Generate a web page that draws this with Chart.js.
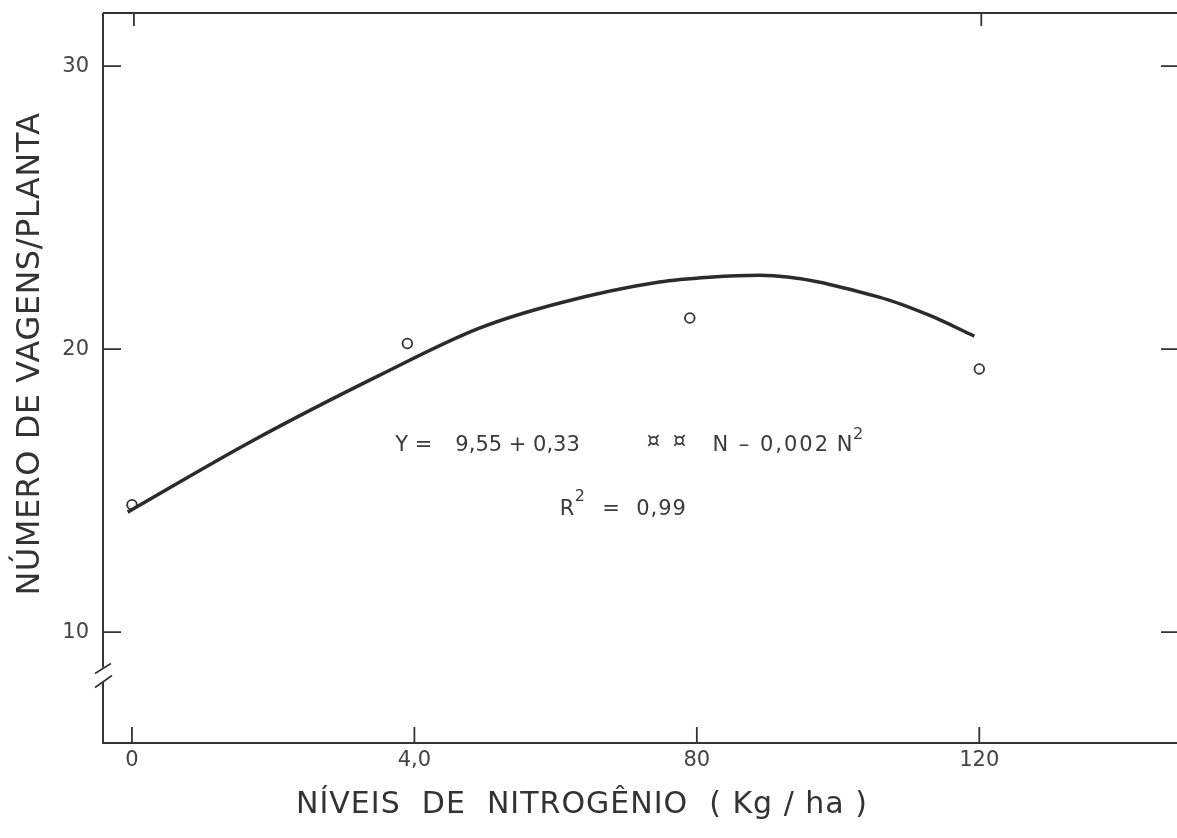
<!DOCTYPE html>
<html>
<head>
<meta charset="utf-8">
<script src="https://cdn.jsdelivr.net/npm/chart.js@4"></script>
<style>
  html, body { margin: 0; padding: 0; background: #fff; }
</style>
</head>
<body>
<canvas id="chart" width="1177" height="838"></canvas>
<script>
// observed means (open circles)
const nitrogenLevels = [0, 39, 79, 120];
const podsPerPlant = [14.5, 20.2, 21.1, 19.3];

// fitted curve
const curveN = [-0.6, 16.7, 35.1, 49.2, 60.6, 74.7, 81.8, 88.9, 105.8, 112.9, 119.3];
const curveY = [14.24, 16.71, 19.08, 20.74, 21.63, 22.37, 22.54, 22.61, 21.84, 21.2, 20.46];

const xTickValues = [0, 40, 80, 120];
const xTickLabels = ['0', '4,0', '80', '120'];
const yTickValues = [10, 20, 30];
const yTickLabels = ['10', '20', '30'];

const INK = '#333';
const FONT = "'DejaVu Sans', sans-serif";

// frame, inner ticks, axis break, titles and equation
const figurePlugin = {
  id: 'figure',
  afterDraw(chart) {
    const { ctx, chartArea: a, scales: { x, y } } = chart;
    ctx.save();
    ctx.strokeStyle = INK;
    ctx.fillStyle = INK;
    ctx.lineWidth = 2;
    ctx.lineCap = 'butt';

    // left axis with a break near the bottom
    const brk = y.getPixelForValue(8.5);
    ctx.beginPath();
    ctx.moveTo(a.left, a.top);
    ctx.lineTo(a.left, brk - 7);
    ctx.moveTo(a.left, brk + 7);
    ctx.lineTo(a.left, a.bottom);
    ctx.lineTo(a.right, a.bottom);
    ctx.moveTo(a.left, a.top);
    ctx.lineTo(a.right, a.top);
    ctx.stroke();

    ctx.lineWidth = 1.6;
    ctx.beginPath();
    ctx.moveTo(a.left - 8, brk - 1);
    ctx.lineTo(a.left + 8, brk - 11);
    ctx.moveTo(a.left - 8, brk + 13);
    ctx.lineTo(a.left + 9, brk + 1);
    ctx.stroke();

    // ticks, all pointing inward
    ctx.lineWidth = 1.8;
    ctx.beginPath();
    xTickValues.forEach(v => {
      const px = x.getPixelForValue(v);
      ctx.moveTo(px, a.bottom);
      ctx.lineTo(px, a.bottom - 16);
    });
    [0, 120].forEach(v => {
      const px = x.getPixelForValue(v) + 2;
      ctx.moveTo(px, a.top);
      ctx.lineTo(px, a.top + 13);
    });
    yTickValues.forEach(v => {
      const py = y.getPixelForValue(v);
      ctx.moveTo(a.left, py);
      ctx.lineTo(a.left + 18, py);
      ctx.moveTo(a.right, py);
      ctx.lineTo(a.right - 16, py);
    });
    ctx.stroke();

    // tick labels
    ctx.fillStyle = '#444';
    ctx.font = `21px ${FONT}`;
    ctx.textBaseline = 'middle';
    ctx.textAlign = 'right';
    yTickValues.forEach((v, i) => {
      ctx.fillText(yTickLabels[i], a.left - 14, y.getPixelForValue(v));
    });
    ctx.textAlign = 'center';
    xTickValues.forEach((v, i) => {
      ctx.fillText(xTickLabels[i], x.getPixelForValue(v), a.bottom + 18);
    });

    // axis titles
    ctx.fillStyle = INK;
    ctx.font = `30px ${FONT}`;
    ctx.letterSpacing = '1px';
    ctx.fillText('NÍVEIS  DE  NITROGÊNIO  ( Kg / ha )', 582, 805);
    ctx.save();
    ctx.translate(31, 354);
    ctx.rotate(-Math.PI / 2);
    ctx.font = `32px ${FONT}`;
    ctx.letterSpacing = '0.5px';
    ctx.fillText('NÚMERO DE VAGENS/PLANTA', 0, 0);
    ctx.restore();
    ctx.letterSpacing = '0px';

    // regression equation
    ctx.fillStyle = '#3a3a3a';
    ctx.textAlign = 'left';
    const put = (txt, xv, yv, size, sp = '0px') => {
      ctx.font = `${size}px ${FONT}`;
      ctx.letterSpacing = sp;
      ctx.fillText(txt, x.getPixelForValue(xv), y.getPixelForValue(yv));
    };
    put('Y =', 37.3, 16.6, 21);
    put('9,55 + 0,33', 45.8, 16.6, 21);
    put('¤', 72.9, 16.75, 21);
    put('¤', 76.6, 16.75, 21);
    put('N – 0,002', 82.2, 16.6, 21, '2px');
    put('N', 99.8, 16.6, 21);
    put('2', 102.1, 16.96, 16);
    put('R', 60.6, 14.32, 21);
    put('2', 62.7, 14.78, 16);
    put('=  0,99', 66.6, 14.32, 21, '1px');
    ctx.restore();
  }
};

new Chart(document.getElementById('chart'), {
  type: 'scatter',
  data: {
    datasets: [
      {
        label: 'Curva ajustada',
        data: curveN.map((n, i) => ({ x: n, y: curveY[i] })),
        showLine: true,
        borderColor: '#2b2b2b',
        borderWidth: 3.5,
        pointRadius: 0,
        cubicInterpolationMode: 'monotone',
        fill: false,
      },
      {
        label: 'Observado',
        data: nitrogenLevels.map((n, i) => ({ x: n, y: podsPerPlant[i] })),
        pointStyle: 'circle',
        pointRadius: 4.8,
        borderWidth: 1.8,
        borderColor: '#333',
        backgroundColor: '#fff',
      },
    ],
  },
  options: {
    responsive: false,
    animation: false,
    layout: { autoPadding: false, padding: { left: 103, top: 13, right: 0, bottom: 95 } },
    plugins: { legend: { display: false }, tooltip: { enabled: false } },
    scales: {
      x: { type: 'linear', display: false, min: -4.1, max: 148 },
      y: { type: 'linear', display: false, min: 6.08, max: 31.88 },
    },
  },
  plugins: [figurePlugin],
});
</script>
</body>
</html>
